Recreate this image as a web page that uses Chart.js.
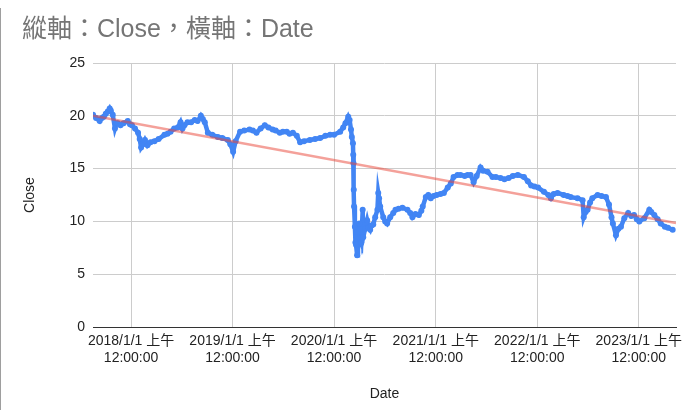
<!DOCTYPE html>
<html>
<head>
<meta charset="utf-8">
<script src="https://cdn.jsdelivr.net/npm/chart.js@4"></script>
<style>
  body { margin: 0; background: #fff; }
  #wrap { position: relative; width: 690px; height: 410px; }
  #edge { position: absolute; left: 0; top: 8px; width: 1px; height: 402px; background: #9e9e9e; }
</style>
</head>
<body>
<div id="wrap">
  <canvas id="line-chart"></canvas>
  <div id="edge"></div>
</div>
<script>
// Close values
var dates = [
  "2017-08-17","2017-08-28","2017-09-10","2017-09-18","2017-09-25","2017-10-02","2017-10-09","2017-10-16",
  "2017-10-20","2017-10-27","2017-11-04","2017-11-10","2017-11-15","2017-11-24","2017-12-05","2017-12-20",
  "2017-12-28","2018-01-04","2018-01-15","2018-01-26","2018-02-01","2018-02-06","2018-02-13","2018-02-20",
  "2018-03-01","2018-03-12","2018-03-26","2018-04-10","2018-05-01","2018-05-12","2018-05-23","2018-06-05",
  "2018-06-18","2018-06-28","2018-07-05","2018-07-12","2018-07-23","2018-08-05","2018-08-18","2018-08-28",
  "2018-09-09","2018-09-16","2018-09-23","2018-10-04","2018-10-20","2018-11-09","2018-11-25","2018-12-15",
  "2018-12-24","2019-01-03","2019-01-12","2019-01-28","2019-02-12","2019-03-03","2019-03-15","2019-03-28",
  "2019-04-12","2019-04-27","2019-05-10","2019-05-25","2019-06-05","2019-06-20","2019-07-01","2019-07-15",
  "2019-07-25","2019-08-06","2019-08-20","2019-09-01","2019-09-15","2019-10-06","2019-10-25","2019-11-12",
  "2019-12-01","2019-12-18","2020-01-01","2020-01-23","2020-02-03","2020-02-11","2020-02-21","2020-02-26",
  "2020-03-02","2020-03-05","2020-03-09","2020-03-10","2020-03-11","2020-03-12","2020-03-13","2020-03-16",
  "2020-03-18","2020-03-20","2020-03-24","2020-03-27","2020-04-01","2020-04-03","2020-04-08","2020-04-13",
  "2020-04-15","2020-04-22","2020-04-29","2020-05-05","2020-05-10","2020-05-15","2020-05-21","2020-05-28",
  "2020-06-05","2020-06-08","2020-06-11","2020-06-15","2020-06-26","2020-07-03","2020-07-10","2020-07-21",
  "2020-08-01","2020-08-09","2020-08-20","2020-09-03","2020-09-21","2020-10-01","2020-10-09","2020-10-20",
  "2020-11-01","2020-11-10","2020-11-15","2020-11-26","2020-12-05","2020-12-14","2020-12-24","2021-01-04",
  "2021-01-18","2021-01-30","2021-02-13","2021-02-24","2021-03-06","2021-03-20","2021-03-31","2021-04-15",
  "2021-04-25","2021-05-06","2021-05-17","2021-05-28","2021-06-11","2021-06-20","2021-07-06","2021-07-24",
  "2021-08-05","2021-08-22","2021-09-05","2021-09-20","2021-10-05","2021-10-23","2021-11-14","2021-11-28",
  "2021-12-10","2021-12-22","2022-01-04","2022-01-25","2022-02-10","2022-02-19","2022-03-01","2022-03-15",
  "2022-04-06","2022-04-20","2022-05-01","2022-05-26","2022-06-13","2022-06-17","2022-06-24","2022-07-01",
  "2022-07-10","2022-07-18","2022-08-06","2022-08-20","2022-09-05","2022-09-16","2022-09-25","2022-09-30",
  "2022-10-11","2022-10-20","2022-10-29","2022-11-10","2022-11-24","2022-12-05","2022-12-15","2022-12-25",
  "2023-01-03","2023-01-21","2023-02-08","2023-02-15","2023-02-26","2023-03-10","2023-03-21","2023-04-05",
  "2023-04-16","2023-05-03"
];
var closeValues = [
  20.1,19.8,19.5,19.8,19.9,20.2,20.4,20.7,
  20.5,20.1,18.8,19.3,19.3,19.1,19.3,19.5,
  19.2,19.1,18.8,18.4,17.8,17.0,17.3,17.7,
  17.2,17.5,17.6,17.8,18.2,18.3,18.5,18.8,
  18.9,19.4,18.8,19.1,19.4,19.4,19.6,19.5,
  20.0,19.7,19.4,18.4,18.2,18.0,17.9,17.7,
  17.3,16.6,17.6,18.5,18.6,18.7,18.6,18.4,
  18.8,19.1,18.9,18.7,18.6,18.4,18.5,18.5,
  18.3,18.4,18.1,17.5,17.6,17.7,17.8,17.9,
  18.1,18.2,18.2,18.5,18.9,19.3,19.9,19.6,
  18.7,18.0,17.4,16.3,15.5,13.0,11.4,9.5,
  8.0,7.8,6.8,8.5,9.8,8.4,8.0,11.1,
  8.5,9.3,10.1,9.4,9.2,9.6,9.7,10.4,
  11.1,12.7,12.2,11.4,10.4,10.0,9.8,10.4,
  10.8,11.1,11.2,11.3,11.1,10.8,10.4,10.7,
  10.6,11.0,11.4,12.3,12.5,12.2,12.4,12.5,
  12.6,12.7,13.2,13.6,14.2,14.4,14.4,14.3,
  14.4,14.4,13.7,14.3,15.1,14.8,14.7,14.2,
  14.2,14.1,14.0,14.1,14.3,14.4,14.2,13.8,
  13.4,13.3,13.2,12.8,12.5,12.2,12.6,12.7,
  12.5,12.4,12.3,12.2,12.0,10.4,10.9,11.1,
  11.8,12.2,12.5,12.4,12.3,11.6,10.4,9.8,
  8.7,9.3,9.5,10.3,10.8,10.5,10.6,10.2,
  10.0,10.3,11.1,10.9,10.6,10.2,9.8,9.5,
  9.4,9.2
];
// trendline end points
var trendDates = ["2017-08-17","2023-05-15"];
var trendValues = [20.0, 9.85];
var tickYears = [2018, 2019, 2020, 2021, 2022, 2023];

function ms(d) { return Date.parse(d); }

var closePoints = dates.map(function(d, i){ return {x: ms(d), y: closeValues[i]}; });
var trendPoints = trendDates.map(function(d, i){ return {x: ms(d), y: trendValues[i]}; });

var tickFont = {family: "'Liberation Sans', Arial, 'Noto Sans CJK TC', sans-serif", size: 14};

new Chart(document.getElementById("line-chart"), {
  type: 'line',
  data: {
    datasets: [{
        data: trendPoints,
        borderColor: "rgba(234,67,53,0.5)",
        borderWidth: 2.5,
        pointRadius: 0,
        fill: false
      }, {
        data: closePoints,
        borderColor: "#4285f4",
        backgroundColor: "#4285f4",
        borderWidth: 4.5,
        pointRadius: 3,
        pointBorderWidth: 0,
        tension: 0,
        fill: false
      }
    ]
  },
  options: {
    responsive: true,
    maintainAspectRatio: false,
    animation: false,
    layout: { padding: { left: 22, right: 14, top: 0, bottom: 0 } },
    plugins: {
      legend: { display: false },
      tooltip: { enabled: false },
      title: {
        display: true,
        text: '縱軸：Close，橫軸：Date',
        align: 'start',
        color: '#757575',
        font: { family: "'Liberation Sans', Arial, 'Noto Sans CJK TC', sans-serif", size: 25, weight: 'normal' },
        padding: { top: 15, bottom: 18 }
      }
    },
    scales: {
      x: {
        type: 'linear',
        min: ms("2017-08-17"),
        max: ms("2023-05-15"),
        afterBuildTicks: function(scale) {
          scale.ticks = tickYears.map(function(y){ return {value: Date.UTC(y, 0, 1)}; });
        },
        afterFit: function(scale) { scale.height = 83; },
        ticks: {
          autoSkip: false,
          maxRotation: 0,
          color: '#222',
          font: tickFont,
          padding: 6,
          callback: function(v) {
            return [new Date(v).getUTCFullYear() + '/1/1 上午', '12:00:00'];
          }
        },
        grid: { color: '#cccccc', drawTicks: false },
        border: { color: '#333333', width: 1 },
        title: {
          display: true,
          text: 'Date',
          color: '#222',
          font: tickFont,
          padding: { top: 0, bottom: 7 }
        }
      },
      y: {
        min: 0,
        max: 25,
        afterFit: function(scale) { scale.width = 71; },
        ticks: { stepSize: 5, color: '#222', font: tickFont, padding: 8 },
        grid: {
          drawTicks: false,
          color: function(ctx) { return ctx.tick && ctx.tick.value === 0 ? '#333333' : '#cccccc'; }
        },
        border: { display: false },
        title: {
          display: true,
          text: 'Close',
          color: '#222',
          font: tickFont,
          padding: { top: 0, bottom: 0 }
        }
      }
    }
  }
});
</script>
</body>
</html>
